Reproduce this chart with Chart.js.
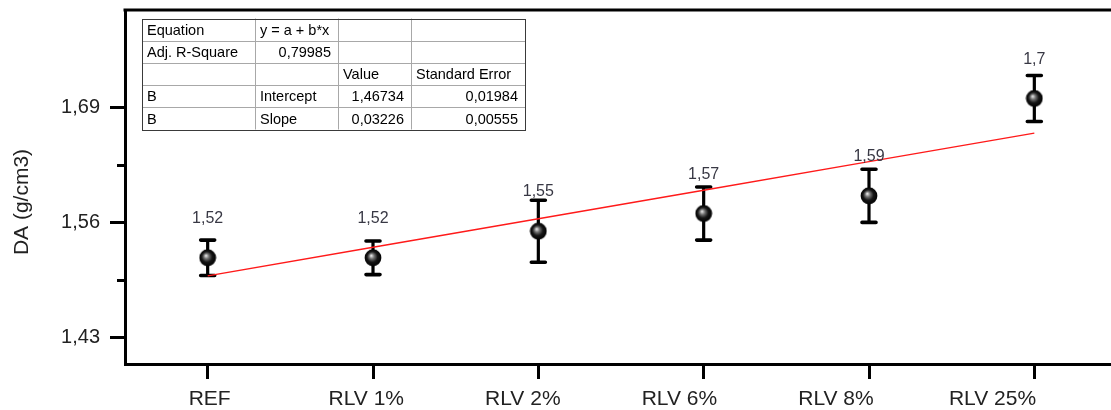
<!DOCTYPE html>
<html>
<head>
<meta charset="utf-8">
<title>DA (g/cm3)</title>
<script src="https://cdn.jsdelivr.net/npm/chart.js@4.4.1/dist/chart.umd.min.js"></script>
<style>
  html, body { margin: 0; padding: 0; background: #fff; overflow: hidden; }
  #wrap { width: 1117px; height: 410px; }
</style>
</head>
<body>
<div id="wrap"><canvas id="c" width="1117" height="410"></canvas></div>
<script>
// ---- data ----
const categories = ['REF', 'RLV 1%', 'RLV 2%', 'RLV 6%', 'RLV 8%', 'RLV 25%'];
const meanDA = [1.52, 1.52, 1.55, 1.57, 1.59, 1.70];
const errDA = [0.020, 0.019, 0.035, 0.030, 0.030, 0.026];
const yMajorTicks = [1.43, 1.56, 1.69];
const yMinorTicks = [1.495, 1.625];
const yTickLabels = ['1,43', '1,56', '1,69'];
// linear fit y = a + b*x, x = 1..6
const fitIntercept = 1.46734;
const fitSlope = 0.03226;
const fitInterceptErr = 0.01984;
const fitSlopeErr = 0.00555;
const fitAdjR2 = 0.79985;

const comma = v => String(v).replace('.', ',');
const fixed5 = v => v.toFixed(5).replace('.', ',');

const fitLine = categories.map((_, i) => fitIntercept + fitSlope * (i + 1));
const valueLabels = meanDA.map(comma);
const fitTable = [
  ['Equation', 'y = a + b*x', '', ''],
  ['Adj. R-Square', fixed5(fitAdjR2), '', ''],
  ['', '', 'Value', 'Standard Error'],
  ['B', 'Intercept', fixed5(fitIntercept), fixed5(fitInterceptErr)],
  ['B', 'Slope', fixed5(fitSlope), fixed5(fitSlopeErr)]
];

const FONT = "'Liberation Sans', Arial, sans-serif";

// shaded sphere used as point marker
const sphere = (() => {
  const s = document.createElement('canvas');
  s.width = 18; s.height = 18;
  const g = s.getContext('2d');
  const gr = g.createRadialGradient(7.2, 6.8, 0.3, 9, 9, 8.6);
  gr.addColorStop(0, '#e8e8e8');
  gr.addColorStop(0.28, '#707070');
  gr.addColorStop(0.6, '#161616');
  gr.addColorStop(1, '#000');
  g.fillStyle = gr;
  g.beginPath();
  g.arc(9, 9, 8.4, 0, Math.PI * 2);
  g.fill();
  return s;
})();

// vertical error bars with caps, beneath the markers
const errorBars = {
  id: 'errorBars',
  beforeDatasetsDraw(chart) {
    const { ctx, scales: { x, y } } = chart;
    ctx.save();
    ctx.strokeStyle = '#000';
    meanDA.forEach((m, i) => {
      const px = x.getPixelForValue(i);
      const yt = y.getPixelForValue(m + errDA[i]);
      const yb = y.getPixelForValue(m - errDA[i]);
      ctx.lineCap = 'butt';
      ctx.lineWidth = 3.2;
      ctx.beginPath();
      ctx.moveTo(px, yt);
      ctx.lineTo(px, yb);
      ctx.stroke();
      ctx.lineCap = 'round';
      ctx.lineWidth = 3.6;
      ctx.beginPath();
      ctx.moveTo(px - 7, yt); ctx.lineTo(px + 7, yt);
      ctx.moveTo(px - 7, yb); ctx.lineTo(px + 7, yb);
      ctx.stroke();
    });
    ctx.restore();
  }
};

// frame, minor ticks, axis title, category names, value labels, fit table
const decorations = {
  id: 'decorations',
  afterDraw(chart) {
    const { ctx, chartArea: a, scales: { x, y } } = chart;
    ctx.save();

    // top and right frame edges
    ctx.strokeStyle = '#000';
    ctx.lineWidth = 3;
    ctx.beginPath();
    ctx.moveTo(a.left - 1.5, a.top);
    ctx.lineTo(a.right, a.top);
    ctx.lineTo(a.right, a.bottom);
    ctx.stroke();

    // minor y ticks
    ctx.lineWidth = 3;
    yMinorTicks.forEach(v => {
      const py = Math.round(y.getPixelForValue(v)) + 0.5;
      ctx.beginPath();
      ctx.moveTo(a.left - 8, py);
      ctx.lineTo(a.left, py);
      ctx.stroke();
    });

    // y axis title
    ctx.fillStyle = '#222';
    ctx.font = '21px ' + FONT;
    ctx.textAlign = 'center';
    ctx.textBaseline = 'middle';
    ctx.save();
    ctx.translate(22, 202);
    ctx.rotate(-Math.PI / 2);
    ctx.fillText('DA (g/cm3)', 0, 0);
    ctx.restore();

    // category names below the x axis
    const labelSpread = 0.947;
    const x0 = x.getPixelForValue(0);
    ctx.font = '21px ' + FONT;
    ctx.textBaseline = 'alphabetic';
    categories.forEach((c, i) => {
      const lx = x0 + 2 + (x.getPixelForValue(i) - x0) * labelSpread;
      ctx.fillText(c, lx, 405);
    });

    // value labels above each marker
    ctx.fillStyle = '#383844';
    ctx.font = '16px ' + FONT;
    valueLabels.forEach((t, i) => {
      const px = x.getPixelForValue(i);
      const py = y.getPixelForValue(meanDA[i]);
      ctx.fillText(t, px, py - 35);
    });

    // fit results table
    const cols = [142, 255, 338, 411, 525];
    const top = 18.5, rh = 22.2, rows = fitTable.length;
    const bottom = top + rh * rows;
    ctx.fillStyle = '#fff';
    ctx.fillRect(cols[0], top, cols[cols.length - 1] - cols[0], bottom - top);
    ctx.strokeStyle = '#a8a8a8';
    ctx.lineWidth = 1;
    ctx.beginPath();
    for (let r = 1; r < rows; r++) {
      const yy = Math.round(top + rh * r) + 0.5;
      ctx.moveTo(cols[0], yy); ctx.lineTo(cols[cols.length - 1], yy);
    }
    for (let c = 1; c < cols.length - 1; c++) {
      ctx.moveTo(cols[c] + 0.5, top); ctx.lineTo(cols[c] + 0.5, bottom);
    }
    ctx.stroke();
    ctx.strokeStyle = '#3a3a3a';
    ctx.strokeRect(cols[0] + 0.5, Math.round(top) + 0.5,
      cols[cols.length - 1] - cols[0], Math.round(bottom - top));

    ctx.fillStyle = '#000';
    ctx.font = '14.5px ' + FONT;
    ctx.textBaseline = 'alphabetic';
    fitTable.forEach((row, r) => {
      const by = top + rh * r + 16.3;
      row.forEach((txt, c) => {
        if (!txt) return;
        if (/^[\d,]+$/.test(txt)) {
          ctx.textAlign = 'right';
          ctx.fillText(txt, cols[c + 1] - 7, by);
        } else {
          ctx.textAlign = 'left';
          ctx.fillText(txt, cols[c] + 5, by);
        }
      });
    });

    ctx.restore();
  }
};

const noPadding = s => { s.paddingLeft = 0; s.paddingRight = 0; s.paddingTop = 0; s.paddingBottom = 0; };

new Chart(document.getElementById('c'), {
  type: 'line',
  data: {
    labels: categories,
    datasets: [
      {
        label: 'Linear fit',
        data: fitLine,
        borderColor: '#ff1a1a',
        borderWidth: 1.4,
        pointRadius: 0,
        fill: false,
        tension: 0,
        order: 0
      },
      {
        label: 'DA',
        data: meanDA,
        showLine: false,
        pointStyle: sphere,
        pointRadius: 9,
        pointHoverRadius: 9,
        order: 1
      }
    ]
  },
  options: {
    responsive: false,
    animation: false,
    events: [],
    layout: { autoPadding: false, padding: { top: 10, left: 0, right: 0, bottom: 0 } },
    plugins: { legend: { display: false }, tooltip: { enabled: false } },
    scales: {
      x: {
        type: 'category',
        offset: true,
        grid: {
          offset: false,
          drawOnChartArea: false,
          drawTicks: true,
          tickLength: 15,
          tickWidth: 3,
          tickColor: '#000'
        },
        border: { display: true, width: 3, color: '#000' },
        ticks: { display: false },
        afterFit(s) { s.height = 46; noPadding(s); }
      },
      y: {
        type: 'linear',
        min: 1.40,
        max: 1.80,
        afterBuildTicks(s) { s.ticks = yMajorTicks.map(v => ({ value: v })); },
        ticks: {
          callback: (v, i) => yTickLabels[i],
          font: { family: FONT, size: 20 },
          color: '#222',
          padding: 10
        },
        grid: {
          drawOnChartArea: false,
          drawTicks: true,
          tickLength: 15,
          tickWidth: 3,
          tickColor: '#000'
        },
        border: { display: true, width: 3, color: '#000' },
        afterFit(s) { s.width = 125; noPadding(s); }
      }
    }
  },
  plugins: [errorBars, decorations]
});
</script>
</body>
</html>
